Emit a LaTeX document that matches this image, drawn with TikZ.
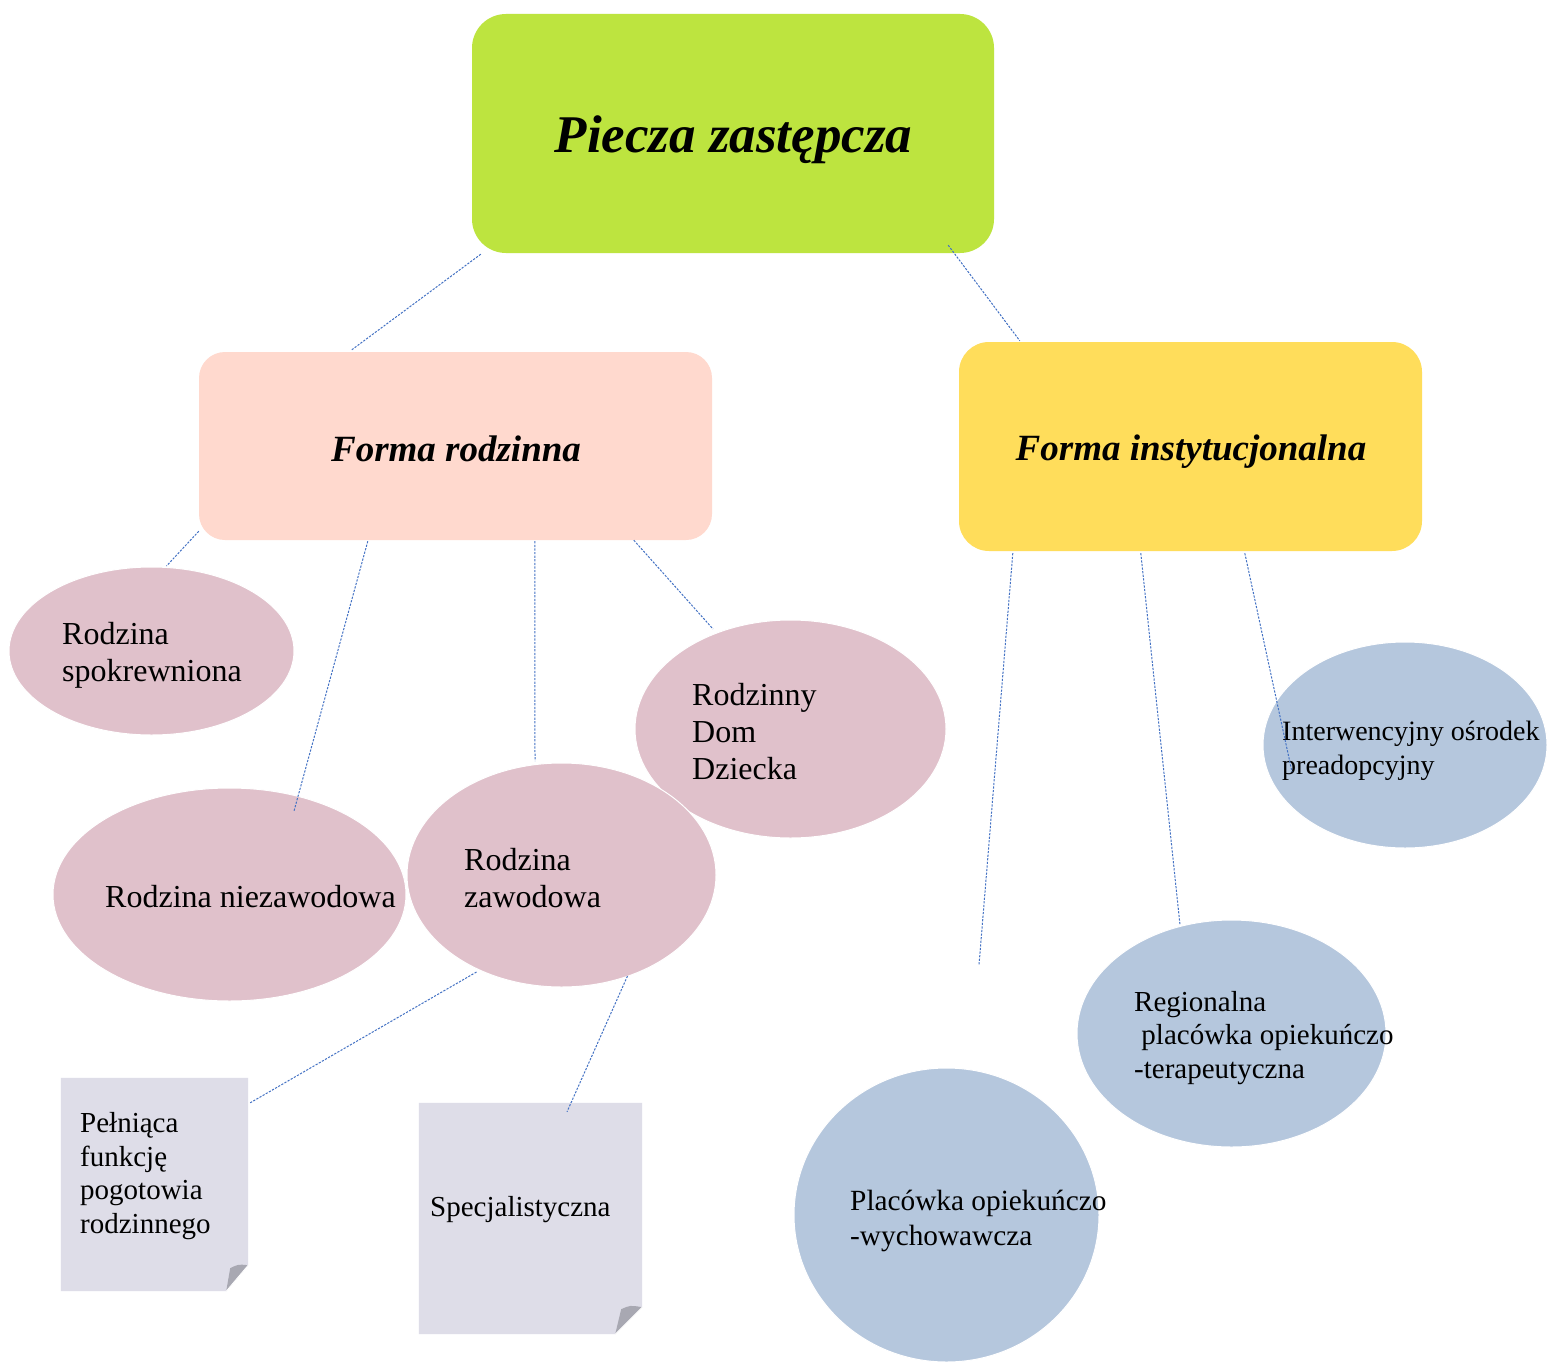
\documentclass[tikz,border=0pt]{standalone}
\usepackage{fontspec}
\setmainfont{Liberation Serif}
\usetikzlibrary{shapes.geometric,calc}
\definecolor{limec}{HTML}{BDE43F}
\definecolor{peachc}{HTML}{FFD9CE}
\definecolor{yellowc}{HTML}{FFDD5B}
\definecolor{pinkc}{HTML}{E0C1CB}
\definecolor{bluec}{HTML}{B5C7DD}
\definecolor{notec}{HTML}{DEDDE8}
\definecolor{foldc}{HTML}{A8A8B2}
\definecolor{lineblue}{HTML}{4472C4}
\tikzset{
  headbox/.style={rectangle, inner sep=0pt, text=black},
  pinkell/.style={ellipse, inner sep=0pt, fill=pinkc, draw=white, line width=1pt},
  blueell/.style={ellipse, inner sep=0pt, fill=bluec, draw=white, line width=1pt},
  notebox/.style={rectangle, inner sep=0pt},
  bigtxt/.style={anchor=west, align=left, inner sep=0pt, font=\fontsize{32}{37}\selectfont},
  midtxt/.style={anchor=west, align=left, inner sep=0pt, font=\fontsize{28}{34}\selectfont},
  notetxt/.style={anchor=west, align=left, inner sep=0pt, font=\fontsize{29}{33.7}\selectfont},
  conn/.style={draw=lineblue, line width=1pt, dash pattern=on 2.2pt off 1.4pt},
}
\begin{document}
\begin{tikzpicture}[x=1pt,y=-1pt]
\useasboundingbox[fill=white] (0,0) rectangle (1547,1362);

% header boxes
\fill[limec, rounded corners=34pt] (472,14) rectangle (994,253);
\node[headbox, minimum width=522, minimum height=239] (piecza) at (733,133.5) {};
\node[inner sep=0pt, font=\fontsize{53}{60}\selectfont\bfseries\itshape] (pieczat) at (733.5,140) {Piecza zastępcza};

\fill[peachc, rounded corners=26pt] (199,352) rectangle (712,540);
\node[headbox, minimum width=513, minimum height=188] (fr) at (455.5,446) {};
\node[inner sep=0pt, font=\fontsize{37}{42}\selectfont\bfseries\itshape] (frt) at (456,449) {Forma rodzinna};

\fill[yellowc, rounded corners=30pt] (959,342) rectangle (1422,551);
\node[headbox, minimum width=463, minimum height=209] (fi) at (1190.5,446.5) {};
\node[inner sep=0pt, font=\fontsize{37}{42}\selectfont\bfseries\itshape] (fit) at (1191,452) {Forma instytucjonalna};

% pink ellipses
\node[pinkell, minimum width=285, minimum height=168] (rs) at (151.5,651) {};
\node[pinkell, minimum width=353, minimum height=213] (rn) at (229.5,894.5) {};
\node[pinkell, minimum width=311, minimum height=218] (rd) at (790.5,729) {};
\node[pinkell, minimum width=309, minimum height=224] (rz) at (561.5,875) {};

\node[bigtxt] (rst) at (62,655) {Rodzina\\spokrewniona};
\node[bigtxt] (rnt) at (105,897) {Rodzina niezawodowa};
\node[bigtxt] (rzt) at (464,878) {Rodzina\\zawodowa};
\node[bigtxt] (rdt) at (692,732) {Rodzinny\\Dom\\Dziecka};

% blue ellipses
\node[blueell, minimum width=284, minimum height=206] (io) at (1405,745) {};
\node[blueell, minimum width=309, minimum height=227] (rp) at (1231.5,1033.5) {};
\node[blueell, minimum width=305, minimum height=294] (pw) at (946.5,1215) {};

\node[midtxt] (iot) at (1282,751) {Interwencyjny ośrodek\\preadopcyjny};
\node[midtxt, font=\fontsize{29}{33.5}\selectfont] (rpt) at (1134,1038) {Regionalna\\\hspace*{0.25em}placówka opiekuńczo\\-terapeutyczna};
\node[midtxt, font=\fontsize{29.3}{35}\selectfont] (pwt) at (850,1221) {Placówka opiekuńczo\\-wychowawcza};

% notes
\node[notebox, minimum width=187, minimum height=213] (n1) at (154.5,1184.5) {};
\fill[notec] (n1.north west) -- (n1.north east) -- ($(n1.south east)+(0,-26)$) -- ($(n1.south east)+(-22,0)$) -- (n1.south west) -- cycle;
\fill[foldc] ($(n1.south east)+(-18,-23)$) .. controls ($(n1.south east)+(-10,-27)$) .. ($(n1.south east)+(0,-26)$) -- ($(n1.south east)+(-22,0)$) -- cycle;
\draw[white, line width=0.8pt] ($(n1.south east)+(0,-26)$) -- ($(n1.south east)+(-22,0)$);
\node[notetxt] (n1t) at (80,1176) {Pełniąca\\funkcję\\pogotowia\\rodzinnego};

\node[notebox, minimum width=223, minimum height=231] (n2) at (530.5,1218.5) {};
\fill[notec] (n2.north west) -- (n2.north east) -- ($(n2.south east)+(0,-27)$) -- ($(n2.south east)+(-27,0)$) -- (n2.south west) -- cycle;
\fill[foldc] ($(n2.south east)+(-21,-25)$) .. controls ($(n2.south east)+(-12,-29)$) .. ($(n2.south east)+(0,-27)$) -- ($(n2.south east)+(-27,0)$) -- cycle;
\draw[white, line width=0.8pt] ($(n2.south east)+(0,-27)$) -- ($(n2.south east)+(-27,0)$);
\node[notetxt] (n2t) at (430,1210) {Specjalistyczna};

% connectors
\draw[conn] ($(piecza.south west)+(9,1)$) -- ($(fr.north west)+(153,-2)$);
\draw[conn] ($(piecza.south east)+(-46,-8)$) -- ($(fi.north west)+(61,-1)$);
\draw[conn] ($(fr.south west)+(0,-9)$) -- ($(rs.center)+(15,-85)$);
\draw[conn] ($(fr.south west)+(169,1)$) -- ($(rn.center)+(64.5,-83.5)$);
\draw[conn] ($(fr.south west)+(336,1)$) -- ($(rz.center)+(-26.5,-114)$);
\draw[conn] ($(fr.south west)+(435,0)$) -- ($(rd.center)+(-77.5,-100)$);
\draw[conn] ($(fi.south west)+(54,2)$) -- ($(pw.center)+(32.5,-250)$);
\draw[conn] ($(fi.south west)+(182,2)$) -- ($(rp.center)+(-51.5,-108.5)$);
\draw[conn] ($(fi.south west)+(286,2)$) -- ($(io.center)+(-113,27)$);
\draw[conn] ($(rz.center)+(-85,97)$) -- ($(n1.north east)+(2,25)$);
\draw[conn] ($(rz.center)+(66,101)$) -- ($(n2.north)+(36.5,9)$);
\end{tikzpicture}
\end{document}
